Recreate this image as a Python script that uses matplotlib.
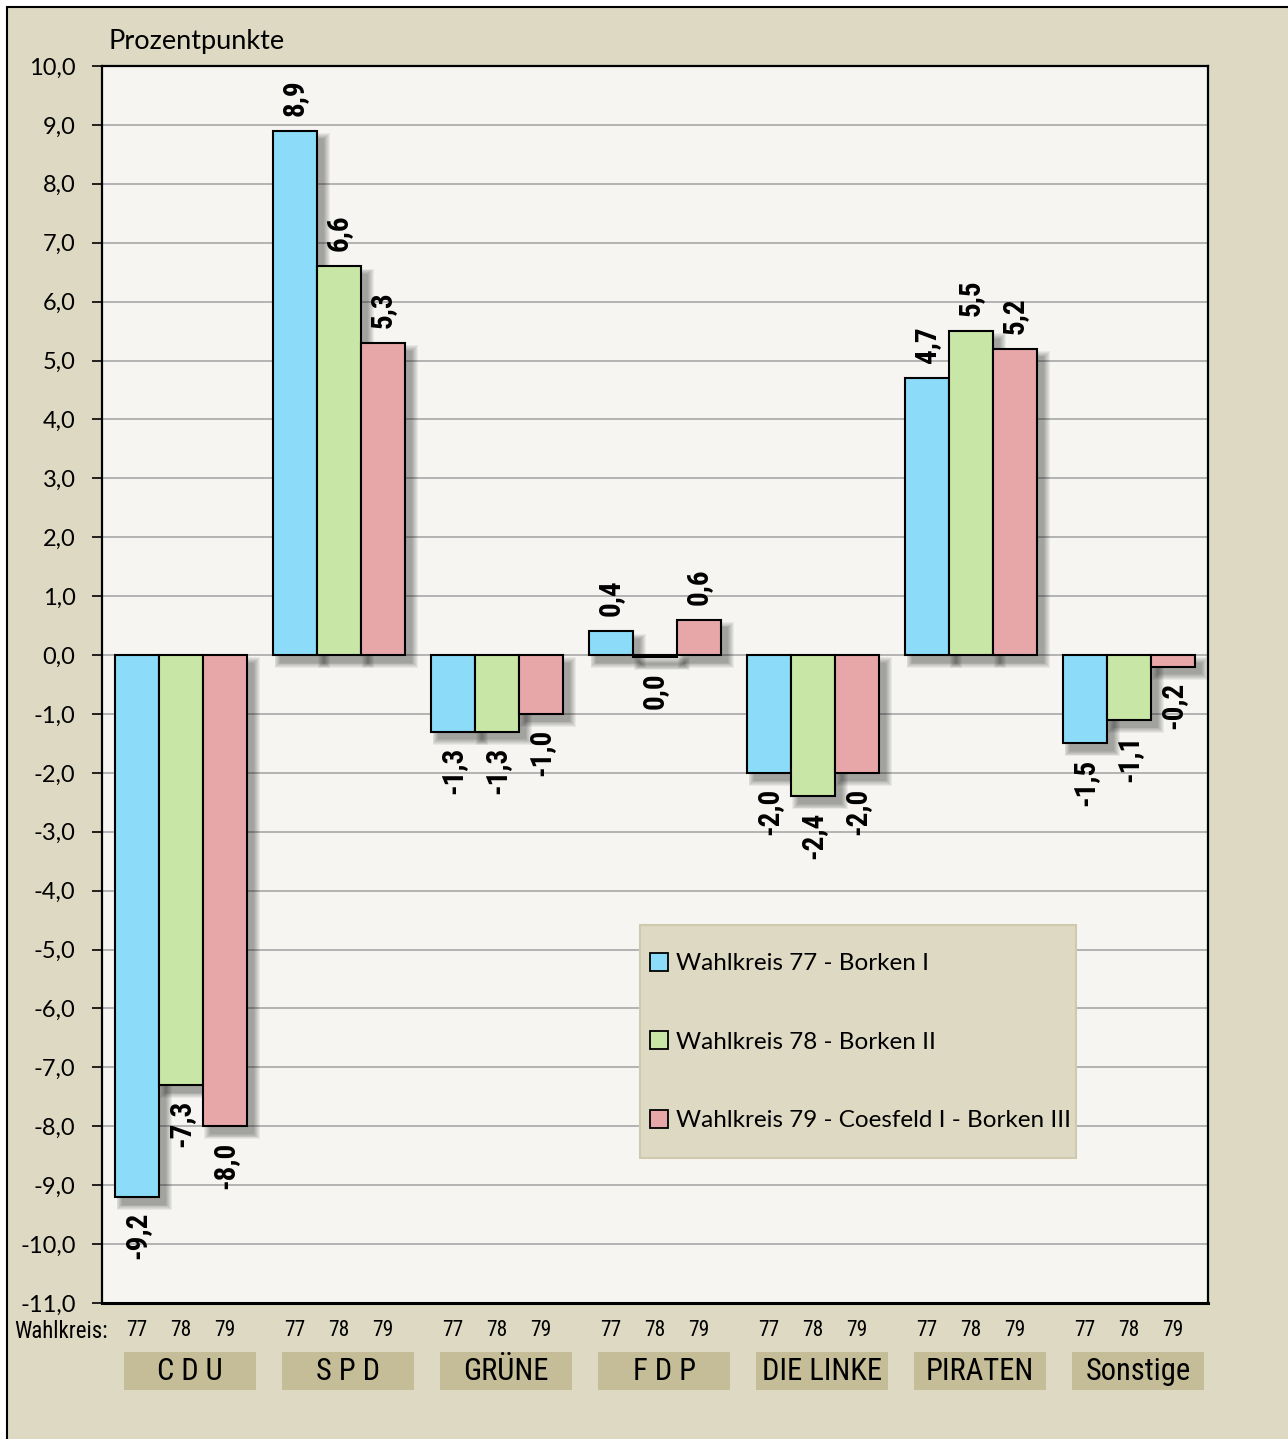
import matplotlib
matplotlib.use("Agg")
from matplotlib import pyplot as plt
from matplotlib import font_manager
from matplotlib.patches import Rectangle, Patch
from matplotlib.ticker import FuncFormatter
import matplotlib.transforms as mtransforms

# Daten
parteien = ["C D U", "S P D", "GRÜNE", "F D P", "DIE LINKE", "PIRATEN", "Sonstige"]
wk77 = [-9.2, 8.9, -1.3, 0.4, -2.0, 4.7, -1.5]
wk78 = [-7.3, 6.6, -1.3, -0.04, -2.4, 5.5, -1.1]
wk79 = [-8.0, 5.3, -1.0, 0.6, -2.0, 5.2, -0.2]
wahlkreise = ["77", "78", "79"]
legende = ["Wahlkreis 77 - Borken I",
           "Wahlkreis 78 - Borken II",
           "Wahlkreis 79 - Coesfeld I - Borken III"]
farben = ["#8cdbf8", "#c8e6a6", "#e7a7a9"]

bg = "#ddd9c3"
plotbg = "#f6f5f1"
boxfarbe = "#c4bd97"


def pick(names):
    for n in names:
        try:
            font_manager.findfont(font_manager.FontProperties(family=n), fallback_to_default=False)
            return n
        except Exception:
            pass
    return "DejaVu Sans"


narrow = [pick(["Liberation Sans Narrow", "Roboto Condensed", "DejaVu Sans Condensed", "Roboto"]), "DejaVu Sans"]
calibri = [pick(["Lato", "Open Sans"]), "DejaVu Sans"]

fig = plt.figure(figsize=(12.88, 14.39), dpi=100, facecolor="white")
W, H = 1288, 1439
# Rahmen
bgax = fig.add_axes([0, 0, 1, 1], zorder=-5)
bgax.axis("off")
bgax.set_xlim(0, W)
bgax.set_ylim(H, 0)
bgax.add_patch(Rectangle((7, 7), W + 20, H + 20, facecolor=bg, edgecolor="black", lw=1.5))
# Legendenkasten (über dem Diagramm)
fig.patches.append(Rectangle((640 / W, 1 - 1158 / H), 436 / W, 233 / H, transform=fig.transFigure,
                             facecolor=bg, edgecolor="#cfc9ae", lw=1.5, zorder=5))

ax = fig.add_axes([102 / W, 1 - 1303 / H, 1106 / W, (1303 - 66) / H])
ax.set_facecolor(plotbg)
ax.set_xlim(-0.5, 6.5)
ax.set_ylim(-11, 10)
ax.set_yticks(range(-11, 11))
ax.yaxis.set_major_formatter(FuncFormatter(lambda v, p: f"{v:.1f}".replace(".", ",")))
ax.grid(axis="y", color="#a8a8a8", lw=1.2, zorder=0)
ax.set_axisbelow(True)
for s in ax.spines.values():
    s.set_color("black")
    s.set_linewidth(1.6)
ax.spines["bottom"].set_linewidth(2.2)
ax.tick_params(axis="y", length=7, width=1.2, labelsize=17, pad=12)
for t in ax.get_yticklabels():
    t.set_family(calibri)

w = 0.278
offs = [-w, 0, w]
serien = [wk77, wk78, wk79]
xt, xl = [], []
for k, (vals, c) in enumerate(zip(serien, farben)):
    for i, v in enumerate(vals):
        x = i + offs[k]
        xt.append(x)
        xl.append(wahlkreise[k])
        # Schatten
        sg = 1 if v >= 0 else -1
        for j in range(7):
            e = 0.006 * j
            ax.add_patch(Rectangle((x - w / 2 + 0.045 - e, -0.13 - e * 2.5 * sg),
                                   w + 2 * e, v + e * 5 * sg,
                                   facecolor="black", alpha=0.055, lw=0, zorder=1))
        ax.bar(x, v, width=w, color=c, edgecolor="black", lw=1.5, zorder=3)
        lab = "0,0" if abs(v) < 0.05 else f"{v:.1f}".replace(".", ",")
        if v > 0:
            ax.annotate(lab, (x, v), xytext=(0, 15), textcoords="offset pixels",
                        rotation=90, ha="center", va="bottom", fontsize=21,
                        fontweight="bold", family=narrow, zorder=5)
        else:
            ax.annotate(lab, (x, v), xytext=(0, -15), textcoords="offset pixels",
                        rotation=90, ha="center", va="top", fontsize=21,
                        fontweight="bold", family=narrow, zorder=5)

ax.set_xticks(xt)
ax.set_xticklabels(xl, fontsize=15.5, family=narrow)
ax.tick_params(axis="x", length=0, pad=12)

fig.text(108 / W, 1 - 41 / H, "Prozentpunkte", fontsize=19.5, family=calibri, va="center")
fig.text(14 / W, 1 - 1331 / H, "Wahlkreis:", fontsize=16.5, family=narrow, va="center")

# Parteikästen
trans = mtransforms.blended_transform_factory(ax.transData, fig.transFigure)
for i, p in enumerate(parteien):
    ax.add_patch(Rectangle((i + 0.057 - 0.4175, 1 - 1390 / H), 0.835, 38 / H, transform=trans,
                           facecolor=boxfarbe, lw=0, clip_on=False))
    ax.text(i + 0.057, 1 - 1371 / H, p, transform=trans, ha="center", va="center",
            fontsize=22, family=narrow)

handles = [Patch(facecolor=c, edgecolor="black", lw=1.3) for c in farben]
leg = fig.legend(handles, legende, loc="upper left", bbox_to_anchor=(650 / W, 1 - 953 / H),
                 prop={"family": calibri, "size": 17.5}, frameon=False,
                 labelspacing=2.35, borderpad=0, handlelength=0.75, handleheight=0.75,
                 handletextpad=0.3, borderaxespad=0)
leg.set_zorder(20)

plt.savefig("out.png", dpi=100)
